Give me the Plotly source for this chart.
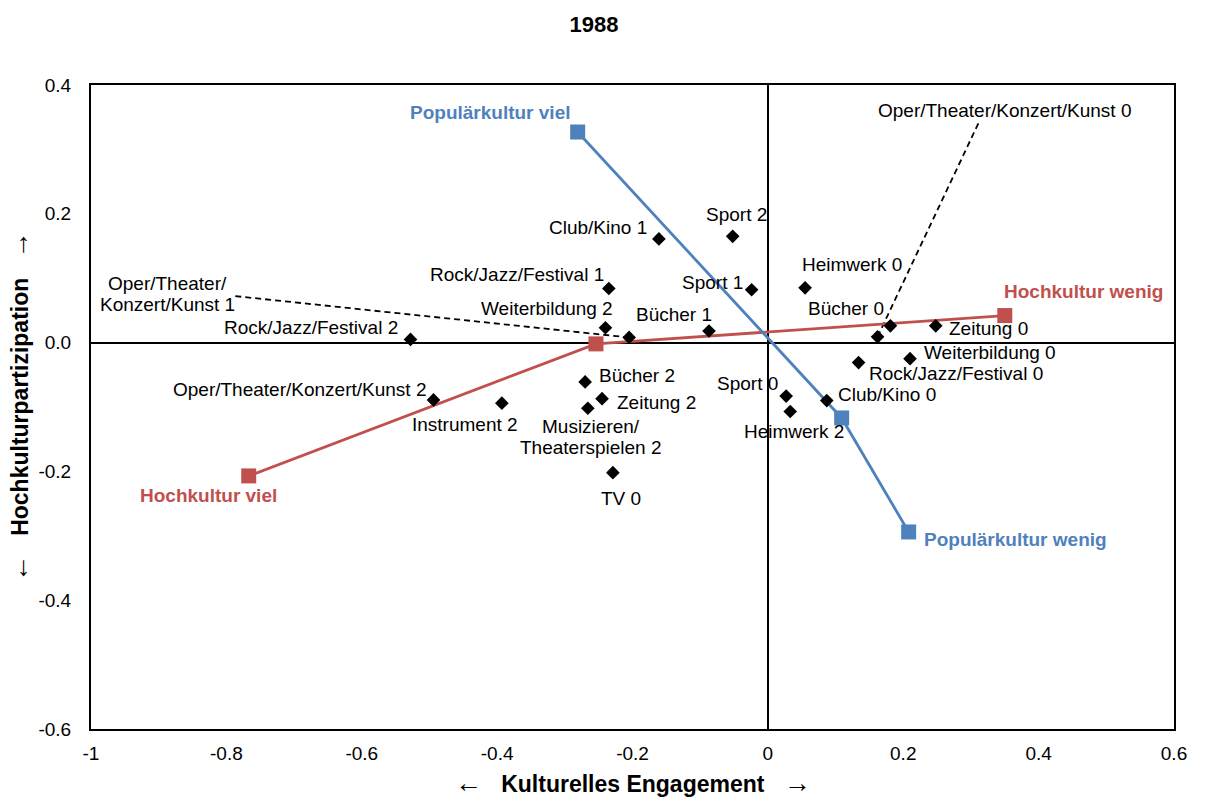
import plotly.graph_objects as go

# ---------------- DATA ----------------
point_labels = [
    "Club/Kino 1", "Sport 2", "Rock/Jazz/Festival 1", "Sport 1", "Heimwerk 0",
    "Weiterbildung 2", "Rock/Jazz/Festival 2", "Oper/Theater/Konzert/Kunst 1",
    "Bücher 1", "Bücher 0", "Oper/Theater/Konzert/Kunst 0", "Zeitung 0",
    "Weiterbildung 0", "Rock/Jazz/Festival 0", "Sport 0", "Heimwerk 2",
    "Club/Kino 0", "Oper/Theater/Konzert/Kunst 2", "Instrument 2", "Bücher 2",
    "Zeitung 2", "Musizieren/Theaterspielen 2", "TV 0",
]
point_x = [-0.161, -0.052, -0.235, -0.024, 0.055,
           -0.240, -0.528, -0.205,
           -0.087, 0.181, 0.162, 0.248,
           0.210, 0.134, 0.027, 0.033,
           0.087, -0.494, -0.393, -0.270,
           -0.245, -0.266, -0.229]
point_y = [0.161, 0.165, 0.084, 0.082, 0.085,
           0.023, 0.005, 0.008,
           0.018, 0.026, 0.009, 0.026,
           -0.025, -0.031, -0.083, -0.107,
           -0.090, -0.089, -0.094, -0.061,
           -0.087, -0.102, -0.202]

hoch_labels = ["Hochkultur viel", "", "Hochkultur wenig"]
hoch_x = [-0.767, -0.254, 0.350]
hoch_y = [-0.207, -0.002, 0.042]

pop_labels = ["Populärkultur viel", "", "Populärkultur wenig"]
pop_x = [-0.281, 0.109, 0.208]
pop_y = [0.327, -0.117, -0.294]

x_tickvals = [-1, -0.8, -0.6, -0.4, -0.2, 0, 0.2, 0.4, 0.6]
x_ticktext = ["-1", "-0.8", "-0.6", "-0.4", "-0.2", "0", "0.2", "0.4", "0.6"]
y_tickvals = [-0.6, -0.4, -0.2, 0.0, 0.2, 0.4]
y_ticktext = ["-0.6", "-0.4", "-0.2", "0.0", "0.2", "0.4"]

title_text = "1988"
x_title = "Kulturelles Engagement"
y_title = "Hochkulturpartizipation"

# ---------------- LAYOUT / STYLE ----------------
FONT = "Liberation Sans, Arial, sans-serif"
BLUE = "#4F81BD"
RED = "#C0504D"
LBL = 19
LINE_GAP = 21  # px between lines of two-line labels

FIG_W, FIG_H = 1206, 800

# label placement: (xanchor, xshift px, yshift px, lines)
label_pos = {
    "Club/Kino 1": ("right", -10, 11, None),
    "Sport 2": ("center", 4, 22, None),
    "Rock/Jazz/Festival 1": ("right", -3, 14, None),
    "Sport 1": ("right", -7, 7, None),
    "Heimwerk 0": ("left", -5, 23, None),
    "Weiterbildung 2": ("right", 10, 19, None),
    "Rock/Jazz/Festival 2": ("right", -10, 12, None),
    "Bücher 1": ("right", 5, 17, None),
    "Bücher 0": ("right", -4, 17, None),
    "Zeitung 0": ("left", 11, -3, None),
    "Weiterbildung 0": ("left", 12, 6, None),
    "Rock/Jazz/Festival 0": ("left", 8, -11, None),
    "Sport 0": ("right", -6, 13, None),
    "Heimwerk 2": ("center", 4, -20, None),
    "Club/Kino 0": ("left", 9, 6, None),
    "Oper/Theater/Konzert/Kunst 2": ("right", -6, 10, None),
    "Instrument 2": ("center", -37, -21, None),
    "Bücher 2": ("left", 12, 6, None),
    "Zeitung 2": ("left", 13, -4, None),
    "Musizieren/Theaterspielen 2": ("center", 3, -29, ["Musizieren/", "Theaterspielen 2"]),
    "TV 0": ("center", 8, -26, None),
}
# labels placed away from their point, connected by a dashed leader line
leader_pos = {
    "Oper/Theater/Konzert/Kunst 1": {"label": (-0.887, 0.076), "end": (-0.789, 0.0724),
                                     "lines": ["Oper/Theater/", "Konzert/Kunst 1"]},
    "Oper/Theater/Konzert/Kunst 0": {"label": (0.3495, 0.360), "end": (0.311, 0.3405),
                                     "lines": ["Oper/Theater/Konzert/Kunst 0"]},
}
series_label_pos = {
    "Hochkultur viel": ("center", -40, -20),
    "Hochkultur wenig": ("left", -3, 24),
    "Populärkultur viel": ("right", -6, 20),
    "Populärkultur wenig": ("left", 13, -8),
}

fig = go.Figure()

# dashed leader lines
for name, d in leader_pos.items():
    i = point_labels.index(name)
    fig.add_trace(go.Scatter(
        x=[point_x[i], d["end"][0]], y=[point_y[i], d["end"][1]],
        mode="lines", line=dict(color="black", width=1.8, dash="6px,4px"),
        hoverinfo="skip", showlegend=False))

# series lines
fig.add_trace(go.Scatter(x=hoch_x, y=hoch_y, mode="lines+markers",
                         line=dict(color=RED, width=2.8),
                         marker=dict(symbol="square", size=15, color=RED),
                         showlegend=False, name="Hochkultur"))
fig.add_trace(go.Scatter(x=pop_x, y=pop_y, mode="lines+markers",
                         line=dict(color=BLUE, width=2.8),
                         marker=dict(symbol="square", size=15, color=BLUE),
                         showlegend=False, name="Populärkultur"))

# category points
fig.add_trace(go.Scatter(x=point_x, y=point_y, mode="markers",
                         marker=dict(symbol="diamond", size=10.5, color="black"),
                         text=point_labels, hoverinfo="text", showlegend=False))


def text_annots(x, y, lines, xanchor, dx, dy, color="black", bold=False):
    out = []
    n = len(lines)
    for k, line in enumerate(lines):
        off = ((n - 1) / 2 - k) * LINE_GAP
        out.append(dict(x=x, y=y, xref="x", yref="y",
                        text=f"<b>{line}</b>" if bold else line,
                        showarrow=False, xanchor=xanchor, yanchor="middle",
                        xshift=dx, yshift=dy + off,
                        font=dict(family=FONT, size=LBL, color=color)))
    return out


annotations = []
for lab, x, y in zip(point_labels, point_x, point_y):
    if lab in label_pos:
        xa, dx, dy, lines = label_pos[lab]
        annotations += text_annots(x, y, lines or [lab], xa, dx, dy)
for lab, d in leader_pos.items():
    annotations += text_annots(d["label"][0], d["label"][1], d["lines"], "center", 0, 0)
for labs, xs, ys, col in [(hoch_labels, hoch_x, hoch_y, RED), (pop_labels, pop_x, pop_y, BLUE)]:
    for lab, x, y in zip(labs, xs, ys):
        if not lab:
            continue
        xa, dx, dy = series_label_pos[lab]
        annotations += text_annots(x, y, [lab], xa, dx, dy, color=col, bold=True)

ARW_L = '<span style="font-size:27px">←</span>'
ARW_R = '<span style="font-size:27px">→</span>'
# axis titles
annotations.append(dict(x=0.5, y=0, xref="paper", yref="paper", yshift=-54,
                        text=f"{ARW_L}   <b>{x_title}</b>   {ARW_R}", showarrow=False,
                        xanchor="center", yanchor="middle",
                        font=dict(family=FONT, size=23, color="black")))
annotations.append(dict(x=0, y=0.5, xref="paper", yref="paper", xshift=-72,
                        text=f"{ARW_L}   <b>{y_title}</b>   {ARW_R}", showarrow=False,
                        textangle=-90, xanchor="center", yanchor="middle",
                        font=dict(family=FONT, size=23, color="black")))

fig.update_layout(
    width=FIG_W, height=FIG_H,
    margin=dict(l=91, r=32, t=85, b=71),
    paper_bgcolor="white", plot_bgcolor="white",
    font=dict(family=FONT, size=LBL, color="black"),
    title=dict(text=f"<b>{title_text}</b>", x=594 / FIG_W, xref="container",
               y=1 - 24 / FIG_H, yref="container", xanchor="center", yanchor="middle",
               font=dict(family=FONT, size=22, color="black")),
    annotations=annotations,
    showlegend=False,
)
fig.update_xaxes(range=[-1, 0.6], tickvals=x_tickvals, ticktext=x_ticktext,
                 showgrid=False, zeroline=True, zerolinecolor="black", zerolinewidth=1.5,
                 showline=True, mirror=True, linecolor="black", linewidth=2,
                 ticks="", ticklabelstandoff=6,
                 tickfont=dict(family=FONT, size=LBL, color="black"))
fig.update_yaxes(range=[-0.6, 0.4], tickvals=y_tickvals, ticktext=y_ticktext,
                 showgrid=False, zeroline=True, zerolinecolor="black", zerolinewidth=1.5,
                 showline=True, mirror=True, linecolor="black", linewidth=2,
                 ticks="", ticklabelstandoff=14,
                 tickfont=dict(family=FONT, size=LBL, color="black"))

# remove the browser's default 8px body margin so the figure fills the window
fig.write_html("out.html", config={"displayModeBar": False},
               post_script="document.body.style.margin='0';document.body.style.overflow='hidden';")
